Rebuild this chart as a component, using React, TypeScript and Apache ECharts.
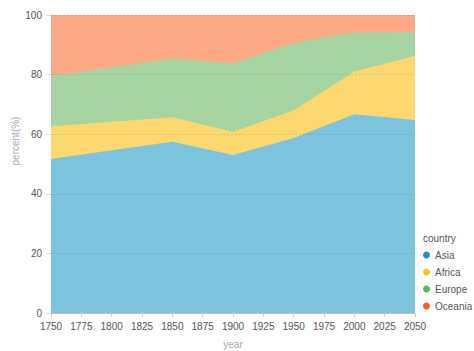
import React, { useEffect, useRef } from "react";
import * as echarts from "echarts";

const years = [1750, 1800, 1850, 1900, 1950, 2000, 2050];
const countries = ["Asia", "Africa", "Europe", "Oceania"];
const asia = [51.7, 54.6, 57.5, 53.0, 58.7, 66.7, 64.8];
const africa = [11.0, 9.6, 8.2, 7.8, 9.3, 14.3, 21.5];
const europe = [16.9, 18.2, 19.8, 23.0, 22.7, 13.1, 8.1];
const oceania = [20.4, 17.6, 14.5, 16.2, 9.3, 5.9, 5.6];
const yTicks = [0, 20, 40, 60, 80, 100];

const areaColors = ["#7cc4dd", "#fdd86e", "#a6d4a2", "#fda985"];
const dotColors = ["#2a8cc6", "#f8c62c", "#5cb35b", "#f05d36"];

export default function App() {
  const ref = useRef<HTMLDivElement>(null);
  useEffect(() => {
    document.body.style.margin = "0";
    const chart = echarts.init(ref.current!, null, { renderer: "svg" });
    const values = [asia, africa, europe, oceania];
    // cumulative stack (percent) built from the arrays
    const cumulative = values.map((_, i) =>
      years.map((_, j) => {
        let s = 0;
        for (let k = 0; k <= i; k++) s += values[k][j];
        return Math.min(100, +s.toFixed(2));
      })
    );
    const font = "Liberation Sans, Arial, sans-serif";
    const order = [3, 2, 1, 0];
    chart.setOption({
      animation: false,
      textStyle: { fontFamily: font },
      grid: { left: 51, right: 59, top: 15, bottom: 38, containLabel: false, outerBoundsMode: "none" },
      xAxis: {
        type: "value",
        min: 1750,
        max: 2050,
        interval: 25,
        name: "year",
        nameLocation: "middle",
        nameGap: 26,
        nameTextStyle: { color: "#aaa", fontSize: 10 },
        axisLine: { show: true, lineStyle: { color: "#ccc" } },
        axisTick: { show: true, length: 4, lineStyle: { color: "#ccc" } },
        axisLabel: { color: "#555", fontSize: 10, margin: 8, formatter: (v: number) => String(v) },
        splitLine: { show: false },
      },
      yAxis: {
        type: "value",
        min: yTicks[0],
        max: yTicks[yTicks.length - 1],
        interval: 20,
        z: 5,
        axisLine: { show: false },
        axisTick: { show: true, length: 5, lineStyle: { color: "#ddd" } },
        axisLabel: { color: "#555", fontSize: 10, margin: 9 },
        splitLine: { show: true, lineStyle: { color: "rgba(0,0,0,0.1)", type: [2, 2] } },
      },
      legend: {
        orient: "vertical",
        left: 418,
        top: 245,
        itemWidth: 7,
        itemHeight: 7,
        itemGap: 7,
        icon: "circle",
        textStyle: { color: "#555", fontSize: 10, fontFamily: font },
        data: countries.map((c, i) => ({ name: c, itemStyle: { color: dotColors[i] } })),
      },
      graphic: [
        {
          type: "text",
          left: 423,
          top: 233,
          style: { text: "country", fill: "#555", fontSize: 10, fontFamily: font },
        },
        {
          type: "text",
          x: 15,
          y: 141,
          rotation: Math.PI / 2,
          style: {
            text: "percent(%)",
            fill: "#aaa",
            fontSize: 10,
            fontFamily: font,
            align: "center",
            verticalAlign: "middle",
          },
        },
      ],
      series: order.map((i) => ({
        name: countries[i],
        type: "line",
        symbol: "none",
        lineStyle: { width: 0 },
        itemStyle: { color: dotColors[i] },
        areaStyle: { color: areaColors[i], opacity: 1 },
        data: years.map((y, j) => [y, cumulative[i][j]]),
      })),
    });
    return () => chart.dispose();
  }, []);
  return <div ref={ref} style={{ width: 474, height: 351 }} />;
}
